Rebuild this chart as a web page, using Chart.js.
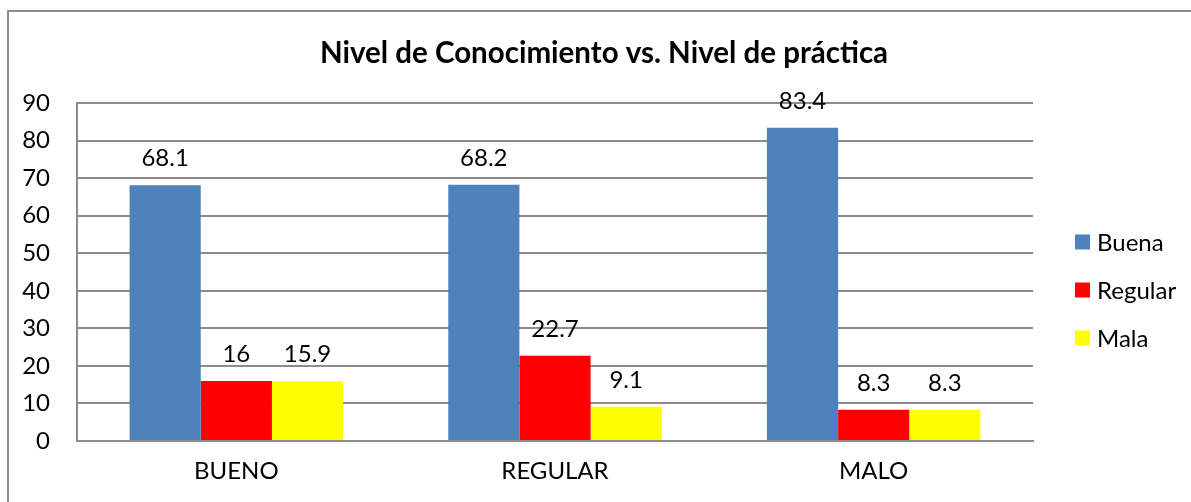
<!DOCTYPE html>
<html>
<head>
<meta charset="utf-8">
<script src="https://cdn.jsdelivr.net/npm/chart.js@4"></script>
<style>
  body { margin: 0; background: #fff; }
  #wrap { position: relative; width: 1191px; height: 502px; }
  #frame { position: absolute; left: 7px; top: 10px; width: 1200px; height: 520px; border: 2px solid #8c8c8c; box-sizing: border-box; }
  canvas { position: absolute; left: 0; top: 0; }
</style>
</head>
<body>
<div id="wrap">
  <div id="frame"></div>
  <canvas id="chart" width="1191" height="502"></canvas>
</div>
<script>
const categorias = ["BUENO", "REGULAR", "MALO"];
const buena = [68.1, 68.2, 83.4];
const regular = [16, 22.7, 8.3];
const mala = [15.9, 9.1, 8.3];
const series = ["Buena", "Regular", "Mala"];
const colores = ["#4f81bd", "#ff0000", "#ffff00"];
const titulo = "Nivel de Conocimiento vs. Nivel de práctica";

const FONT = "Lato";

// etiquetas de valor encima de cada barra
const etiquetas = {
  id: "etiquetas",
  afterDatasetsDraw(chart) {
    const ctx = chart.ctx;
    ctx.save();
    ctx.font = "24px " + FONT;
    ctx.fillStyle = "#000";
    ctx.textAlign = "center";
    ctx.textBaseline = "alphabetic";
    chart.data.datasets.forEach((ds, i) => {
      chart.getDatasetMeta(i).data.forEach((bar, j) => {
        ctx.fillText(String(ds.data[j]), bar.x, bar.y - 19);
      });
    });
    ctx.restore();
  }
};

// titulo y leyenda dibujados a mano
const extras = {
  id: "extras",
  afterDraw(chart) {
    const ctx = chart.ctx;
    ctx.save();
    ctx.fillStyle = "#000";
    ctx.font = "bold 29.5px " + FONT;
    ctx.textAlign = "center";
    ctx.textBaseline = "middle";
    ctx.fillText(titulo, 604, 53);

    ctx.font = "24px " + FONT;
    ctx.textAlign = "left";
    chart.data.datasets.forEach((ds, i) => {
      const y = 242 + i * 48;
      ctx.fillStyle = ds.backgroundColor;
      ctx.fillRect(1075, y - 7.5, 15, 15);
      ctx.fillStyle = "#000";
      ctx.fillText(ds.label, 1097, y + 1);
    });
    ctx.restore();
  }
};

new Chart(document.getElementById("chart"), {
  type: "bar",
  data: {
    labels: categorias,
    datasets: [
      { label: series[0], data: buena, backgroundColor: colores[0] },
      { label: series[1], data: regular, backgroundColor: colores[1] },
      { label: series[2], data: mala, backgroundColor: colores[2] }
    ]
  },
  options: {
    responsive: false,
    animation: false,
    layout: { padding: { left: 7, top: 103, right: 158, bottom: 0 } },
    datasets: { bar: { categoryPercentage: 0.67, barPercentage: 1 } },
    plugins: { legend: { display: false }, title: { display: false }, tooltip: { enabled: false } },
    scales: {
      x: {
        grid: { display: false, drawTicks: false },
        border: { color: "#8c8c8c", width: 2 },
        ticks: { color: "#000", font: { family: FONT, size: 24 }, padding: 16 },
        afterFit(s) { s.height = 61; }
      },
      y: {
        min: 0, max: 90,
        grid: { color: "#8c8c8c", lineWidth: 2, drawTicks: false },
        border: { color: "#8c8c8c", width: 2 },
        ticks: { stepSize: 10, color: "#000", font: { family: FONT, size: 24 }, padding: 27 },
        afterFit(s) { s.width = 70; }
      }
    }
  },
  plugins: [etiquetas, extras]
});
</script>
</body>
</html>
